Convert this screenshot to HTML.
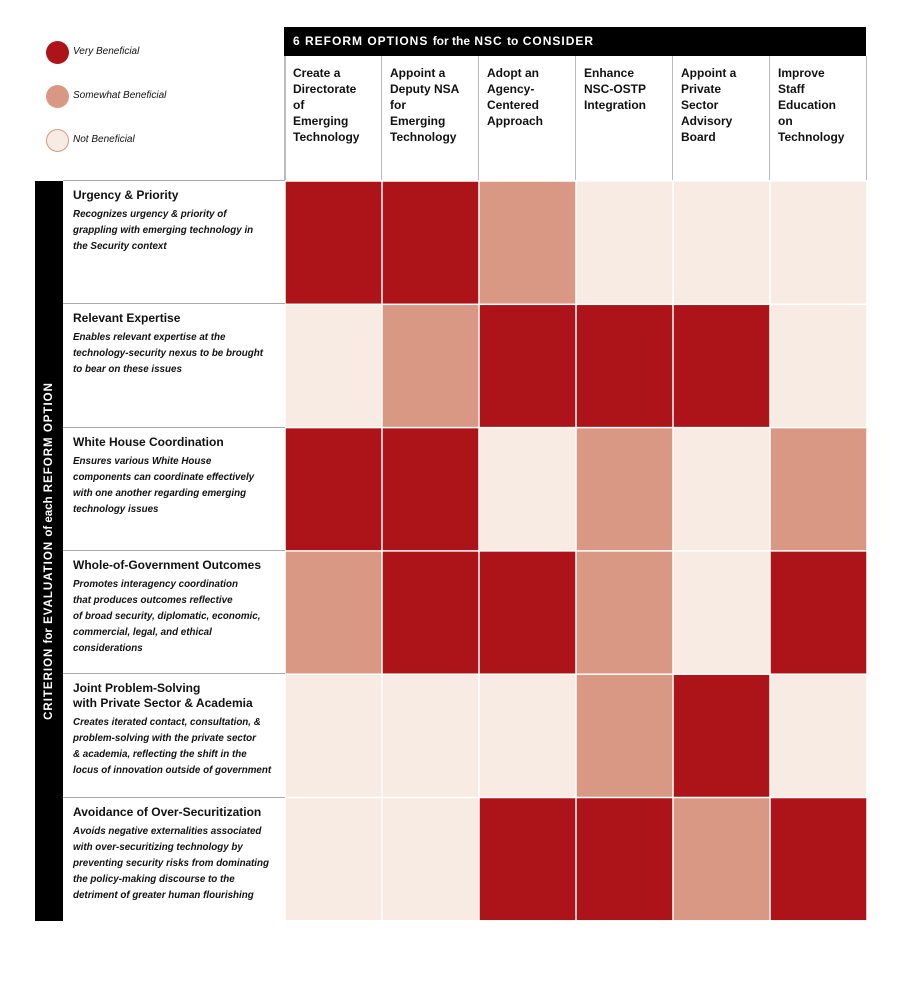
<!DOCTYPE html>
<html><head><meta charset="utf-8"><style>
body{margin:0;width:902px;height:985px;background:#fff;position:relative;font-family:"Liberation Sans",sans-serif;overflow:hidden}
.abs{position:absolute}
.leg{font-style:italic;font-size:10px;color:#111}
.dot{position:absolute;width:23px;height:23px;border-radius:50%}
.colh{position:absolute;top:56px;height:124px;font-size:12px;line-height:16px;color:#111;padding:9px 0 0 8px;box-sizing:border-box;border-right:1.5px solid #bbb;font-weight:bold}
.rowl{position:absolute;left:63px;width:222px;box-sizing:border-box;padding:7px 10px 0 10px;border-top:1.5px solid #aaa}
.rt{font-size:12px;line-height:15px;color:#111;margin-bottom:4px;font-weight:bold}
.rd{font-size:10px;line-height:16px;font-style:italic;font-weight:bold;color:#111}
</style></head><body>
<div class="dot" style="left:46px;top:41px;background:#ad1419"></div>
<div class="abs leg" style="left:73px;top:46px">Very Beneficial</div>
<div class="dot" style="left:46px;top:85px;background:#d99883"></div>
<div class="abs leg" style="left:73px;top:90px">Somewhat Beneficial</div>
<div class="dot" style="left:46px;top:129px;background:#f7ebe3;border:1px solid #d99883;box-sizing:border-box"></div>
<div class="abs leg" style="left:73px;top:134px">Not Beneficial</div>

<div class="abs" style="left:284px;top:27px;width:582px;height:29px;background:#000;color:#fff;font-weight:bold;font-size:12px;letter-spacing:1px;line-height:29px;padding-left:9px;box-sizing:border-box">6 REFORM OPTIONS <span style="letter-spacing:0">for the</span> NSC <span style="letter-spacing:0">to</span> CONSIDER</div>
<div class="abs" style="left:284px;top:56px;width:1.5px;height:124px;background:#bbb"></div>
<div id="cols"></div>

<div class="abs" style="left:35px;top:181px;width:28px;height:740px;background:#000"></div>
<div class="abs" style="left:49px;top:551px;transform:translate(-50%,-50%) rotate(-90deg);white-space:nowrap;color:#fff;font-weight:bold;font-size:11.5px;letter-spacing:1px">CRITERION <span style="letter-spacing:0">for</span> EVALUATION <span style="letter-spacing:0">of each</span> REFORM OPTION</div>
<div id="rows"></div>
<svg id="grid" class="abs" style="left:0;top:0" width="902" height="985"></svg>
<script>
const options=["Create a<br>Directorate<br>of<br>Emerging<br>Technology","Appoint a<br>Deputy NSA<br>for<br>Emerging<br>Technology","Adopt an<br>Agency-<br>Centered<br>Approach","Enhance<br>NSC-OSTP<br>Integration","Appoint a<br>Private<br>Sector<br>Advisory<br>Board","Improve<br>Staff<br>Education<br>on<br>Technology"];
const criteria=["Urgency &amp; Priority","Relevant Expertise","White House Coordination","Whole-of-Government Outcomes","Joint Problem-Solving<br>with Private Sector &amp; Academia","Avoidance of Over-Securitization"];
const descriptions=["Recognizes urgency &amp; priority of<br>grappling with emerging technology in<br>the Security context","Enables relevant expertise at the<br>technology-security nexus to be brought<br>to bear on these issues","Ensures various White House<br>components can coordinate effectively<br>with one another regarding emerging<br>technology issues","Promotes interagency coordination<br>that produces outcomes reflective<br>of broad security, diplomatic, economic,<br>commercial, legal, and ethical<br>considerations","Creates iterated contact, consultation, &amp;<br>problem-solving with the private sector<br>&amp; academia, reflecting the shift in the<br>locus of innovation outside of government","Avoids negative externalities associated<br>with over-securitizing technology by<br>preventing security risks from dominating<br>the policy-making discourse to the<br>detriment of greater human flourishing"];
const ratings=[[2,2,1,0,0,0],[0,1,2,2,2,0],[2,2,0,1,0,1],[1,2,2,1,0,2],[0,0,0,1,2,0],[0,0,2,2,1,2]];
const levelNames=["not-beneficial","somewhat-beneficial","very-beneficial"];
const colors=["#f7ebe3","#d99883","#ad1419"];
const x0=285,colW=97,y0=181,rowH=123.3;
const cols=document.getElementById('cols');
options.forEach((o,i)=>{const d=document.createElement('div');d.className='colh';


d.style.left=(x0+i*colW)+'px';d.style.width=colW+'px';d.innerHTML=o;cols.appendChild(d);});
const rows=document.getElementById('rows');
criteria.forEach((c,i)=>{const d=document.createElement('div');d.className='rowl';


d.style.top=(y0+i*rowH-1)+'px';d.style.height=rowH+'px';
d.innerHTML='<div class="rt">'+c+'</div><div class="rd" style="white-space:nowrap;font-size:9.8px">'+descriptions[i]+'</div>';rows.appendChild(d);});
const g=document.getElementById('grid');
ratings.forEach((r,i)=>r.forEach((v,j)=>{const e=document.createElementNS('http://www.w3.org/2000/svg','rect');


e.setAttribute('x',x0+j*colW+0.75);e.setAttribute('y',y0+i*rowH+0.75);
e.setAttribute('width',colW-1.5);e.setAttribute('height',rowH-1.5);e.setAttribute('fill',colors[v]);g.appendChild(e);}));
</script>
</body></html>
